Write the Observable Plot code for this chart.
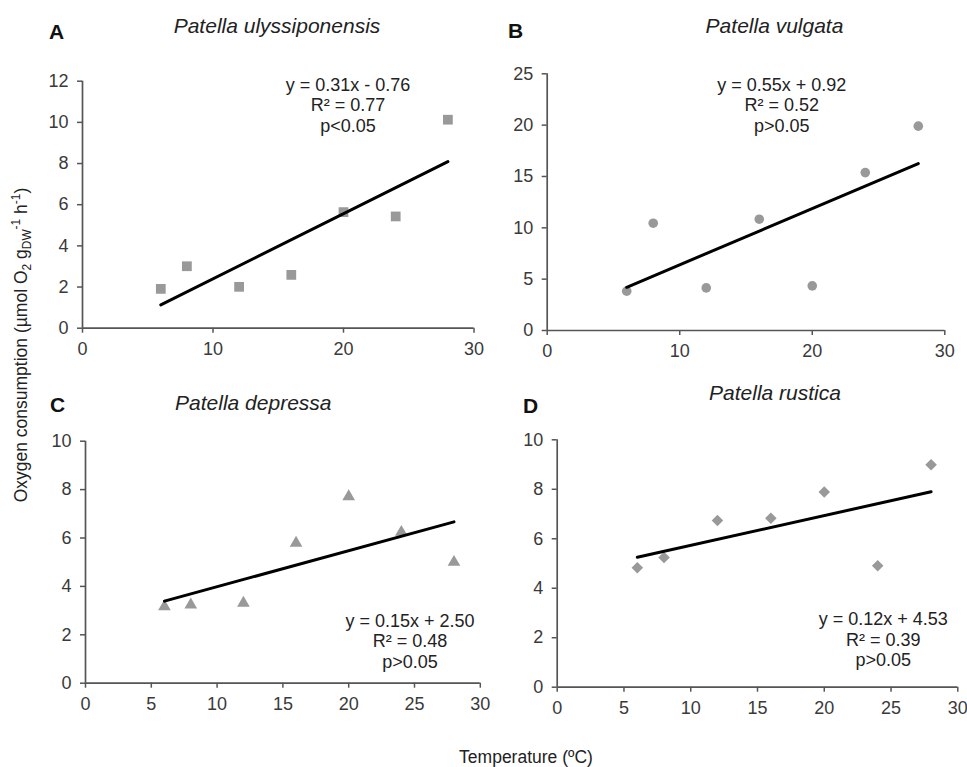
<!DOCTYPE html>
<html>
<head>
<meta charset="utf-8">
<script src="https://cdn.jsdelivr.net/npm/d3@7"></script>
<script src="https://cdn.jsdelivr.net/npm/@observablehq/plot@0.6"></script>
<style>
  html, body { margin: 0; padding: 0; background: #fff; overflow: hidden; }
  #wrap { position: relative; width: 967px; height: 767px; font-family: "Liberation Sans", Arial, sans-serif; }
  #wrap > svg { position: absolute; left: 0; top: 0; }
</style>
</head>
<body>
<div id="wrap"></div>
<script>
// ---- data ----
const temperature = [6, 8, 12, 16, 20, 24, 28];
const o2Ulyssiponensis = [1.91, 3.01, 2.01, 2.59, 5.64, 5.43, 10.13];
const o2Vulgata = [3.83, 10.45, 4.15, 10.84, 4.35, 15.38, 19.9];
const o2Depressa = [3.17, 3.24, 3.31, 5.79, 7.71, 6.24, 5.0];
const o2Rustica = [4.83, 5.24, 6.74, 6.83, 7.89, 4.91, 8.99];

const panelLetters = ["A", "B", "C", "D"];
const speciesNames = ["Patella ulyssiponensis", "Patella vulgata", "Patella depressa", "Patella rustica"];
const equations = ["y = 0.31x - 0.76", "y = 0.55x + 0.92", "y = 0.15x + 2.50", "y = 0.12x + 4.53"];
const rSquared = ["R² = 0.77", "R² = 0.52", "R² = 0.48", "R² = 0.39"];
const pValues = ["p<0.05", "p>0.05", "p>0.05", "p>0.05"];

const xTicksAB = [0, 10, 20, 30];
const xTicksCD = [0, 5, 10, 15, 20, 25, 30];
const yTicksA = [0, 2, 4, 6, 8, 10, 12];
const yTicksB = [0, 5, 10, 15, 20, 25];
const yTicksCD = [0, 2, 4, 6, 8, 10];

const W = 967, H = 767;
const FONT = '"Liberation Sans", Arial, sans-serif';
const AXIS = "#555555", TXT = "#3a3a3a", MARK = "#999999";

const panels = [
  {vals: o2Ulyssiponensis, symbol: "square", r: 5.5, ymax: 12, yticks: yTicksA, xticks: xTicksAB,
   box: {left: 82, right: 473.5, top: 80.7, bottom: 327.7},
   letter: [49, 39], title: [277, 33], eq: [348, 90.5]},
  {vals: o2Vulgata, symbol: "circle", r: 4.8, ymax: 25, yticks: yTicksB, xticks: xTicksAB,
   box: {left: 546.7, right: 944.3, top: 73.3, bottom: 330},
   letter: [508, 38], title: [774.5, 33], eq: [781.7, 90.5]},
  {vals: o2Depressa, symbol: "triangle", r: 4.7, ymax: 10, yticks: yTicksCD, xticks: xTicksCD,
   box: {left: 85, right: 479.8, top: 440.7, bottom: 682.7},
   letter: [50, 411.5], title: [253.3, 410], eq: [410, 626.5]},
  {vals: o2Rustica, symbol: "diamond2", r: 5.2, ymax: 10, yticks: yTicksCD, xticks: xTicksCD,
   box: {left: 556.7, right: 957.3, top: 439.3, bottom: 686.7},
   letter: [523, 412.5], title: [775, 400], eq: [883.3, 625]}
];

const wrap = document.getElementById("wrap");

panels.forEach(p => {
  const data = temperature.map((t, i) => ({t, v: p.vals[i]}));
  const chart = Plot.plot({
    width: W, height: H,
    marginLeft: p.box.left, marginRight: W - p.box.right,
    marginTop: p.box.top, marginBottom: H - p.box.bottom,
    x: {domain: [0, 30]},
    y: {domain: [0, p.ymax]},
    style: {background: "transparent", fontFamily: FONT, overflow: "visible"},
    marks: [
      Plot.axisX({ticks: p.xticks, tickSize: 5, tickPadding: 9, fontSize: 18, stroke: AXIS, strokeWidth: 1.5, fill: TXT, label: null}),
      Plot.axisY({ticks: p.yticks, tickSize: 5, tickPadding: 9, fontSize: 18, stroke: AXIS, strokeWidth: 1.5, fill: TXT, label: null}),
      Plot.ruleY([0], {stroke: AXIS, strokeWidth: 1.7}),
      Plot.ruleX([0], {stroke: AXIS, strokeWidth: 1.7}),
      Plot.dot(data, {x: "t", y: "v", symbol: p.symbol, r: p.r, fill: MARK, stroke: "none"}),
      Plot.linearRegressionY(data, {x: "t", y: "v", ci: 0, stroke: "#000", strokeWidth: 3})
    ]
  });
  wrap.appendChild(chart);
});

// ---- annotations (text) ----
const svg = d3.create("svg").attr("width", W).attr("height", H)
  .attr("font-family", FONT).style("overflow", "visible");

panels.forEach((p, i) => {
  svg.append("text").attr("x", p.letter[0]).attr("y", p.letter[1])
    .attr("font-size", 21).attr("font-weight", "bold").attr("fill", "#111").text(panelLetters[i]);
  svg.append("text").attr("x", p.title[0]).attr("y", p.title[1]).attr("text-anchor", "middle")
    .attr("font-size", 21).attr("font-style", "italic").attr("fill", "#222").text(speciesNames[i]);
  [equations[i], rSquared[i], pValues[i]].forEach((s, k) => {
    svg.append("text").attr("x", p.eq[0]).attr("y", p.eq[1] + k * 20.7).attr("text-anchor", "middle")
      .attr("font-size", 18).attr("fill", "#222").text(s);
  });
});

// y-axis title
const yt = svg.append("text").attr("transform", "translate(26.5,345) rotate(-90)")
  .attr("text-anchor", "middle").attr("font-size", 17.5).attr("fill", "#222");
yt.append("tspan").text("Oxygen consumption (µmol O");
yt.append("tspan").attr("font-size", 12).attr("dy", 4).text("2");
yt.append("tspan").attr("dy", -4).text(" g");
yt.append("tspan").attr("font-size", 12).attr("dy", 4).text("DW");
yt.append("tspan").attr("font-size", 12).attr("dy", -11).text("-1");
yt.append("tspan").attr("dy", 7).text(" h");
yt.append("tspan").attr("font-size", 12).attr("dy", -7).text("-1");
yt.append("tspan").attr("dy", 7).text(")");

// x-axis title
svg.append("text").attr("x", 526).attr("y", 763).attr("text-anchor", "middle")
  .attr("font-size", 17.5).attr("fill", "#222").text("Temperature (ºC)");

wrap.appendChild(svg.node());
</script>
</body>
</html>
